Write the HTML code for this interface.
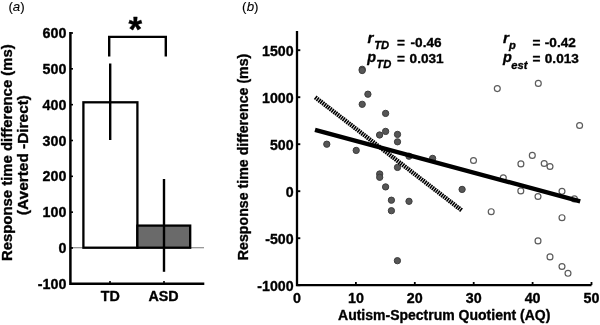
<!DOCTYPE html>
<html><head><meta charset="utf-8"><title>Figure</title>
<style>
html,body{margin:0;padding:0;background:#fff;}
.t text{stroke:#000;stroke-width:0.35px;stroke-linejoin:round;}
.t text.lab{stroke-width:0.12px;}
body{width:600px;height:325px;overflow:hidden;position:relative;font-family:"Liberation Sans",sans-serif;}
</style></head><body>
<svg width="600" height="325" viewBox="0 0 600 325" style="position:absolute;left:0;top:0">
<defs><filter id="soft" x="0" y="0" width="600" height="325" filterUnits="userSpaceOnUse"><feGaussianBlur stdDeviation="0.4"/></filter><filter id="soft2" x="300" y="80" width="180" height="150" filterUnits="userSpaceOnUse"><feGaussianBlur stdDeviation="0.2"/></filter></defs>
<rect width="600" height="325" fill="#fff"/>
<g filter="url(#soft)">
<g font-family="Liberation Sans, sans-serif" fill="#000" class="t">
<line x1="71" y1="247.7" x2="204" y2="247.7" stroke="#777" stroke-width="1.1"/>
<rect x="83.4" y="102.3" width="54" height="145.4" fill="#fff" stroke="#000" stroke-width="2.3"/>
<rect x="137.4" y="225.6" width="52.8" height="22.1" fill="#6a6a6a" stroke="#000" stroke-width="2.3"/>
<line x1="110.2" y1="63.5" x2="110.2" y2="140" stroke="#000" stroke-width="2.4"/>
<line x1="164" y1="179" x2="164" y2="271.8" stroke="#000" stroke-width="2.4"/>
<path d="M109.2 56.5 V36.9 H165.8 V56.5" fill="none" stroke="#000" stroke-width="2.4"/>
<path d="M70.4 32 V283.7 H204.3" fill="none" stroke="#000" stroke-width="2.5"/>
<line x1="70.4" y1="33.00" x2="73" y2="33.00" stroke="#000" stroke-width="1.6"/>
<text x="66.4" y="38.10" font-size="14.3" font-weight="bold" text-anchor="end">600</text>
<line x1="70.4" y1="68.83" x2="73" y2="68.83" stroke="#000" stroke-width="1.6"/>
<text x="66.4" y="73.93" font-size="14.3" font-weight="bold" text-anchor="end">500</text>
<line x1="70.4" y1="104.66" x2="73" y2="104.66" stroke="#000" stroke-width="1.6"/>
<text x="66.4" y="109.76" font-size="14.3" font-weight="bold" text-anchor="end">400</text>
<line x1="70.4" y1="140.49" x2="73" y2="140.49" stroke="#000" stroke-width="1.6"/>
<text x="66.4" y="145.59" font-size="14.3" font-weight="bold" text-anchor="end">300</text>
<line x1="70.4" y1="176.32" x2="73" y2="176.32" stroke="#000" stroke-width="1.6"/>
<text x="66.4" y="181.42" font-size="14.3" font-weight="bold" text-anchor="end">200</text>
<line x1="70.4" y1="212.15" x2="73" y2="212.15" stroke="#000" stroke-width="1.6"/>
<text x="66.4" y="217.25" font-size="14.3" font-weight="bold" text-anchor="end">100</text>
<line x1="70.4" y1="247.98" x2="73" y2="247.98" stroke="#000" stroke-width="1.6"/>
<text x="66.4" y="253.08" font-size="14.3" font-weight="bold" text-anchor="end">0</text>
<line x1="70.4" y1="283.81" x2="73" y2="283.81" stroke="#000" stroke-width="1.6"/>
<text x="66.4" y="288.91" font-size="14.3" font-weight="bold" text-anchor="end">-100</text>
<line x1="110" y1="283.7" x2="110" y2="281" stroke="#000" stroke-width="1.6"/>
<line x1="164" y1="283.7" x2="164" y2="281" stroke="#000" stroke-width="1.6"/>
<text x="110.2" y="300.8" font-size="14.3" font-weight="bold" text-anchor="middle">TD</text>
<text x="163.6" y="300.8" font-size="14.3" font-weight="bold" text-anchor="middle">ASD</text>
<text x="135.2" y="40.7" font-size="35" font-weight="bold" text-anchor="middle">*</text>
<text transform="translate(12.3,152.65) rotate(-90)" font-size="14.9" font-weight="bold" text-anchor="middle">Response time difference (ms)</text>
<text transform="translate(28.3,155.05) rotate(-90)" font-size="15.4" font-weight="bold" text-anchor="middle">(Averted -Direct)</text>
<text class="lab" x="8.4" y="10.8" font-size="13.3">(<tspan font-style="italic">a</tspan>)</text>
<text class="lab" x="241.9" y="10.8" font-size="13.3">(<tspan font-style="italic" dx="0.3">b</tspan>)</text>
</g>
<g font-family="Liberation Sans, sans-serif" fill="#000" class="t">
<circle cx="326.8" cy="144.2" r="3.15" fill="#565656" stroke="#3c3c3c" stroke-width="1"/>
<circle cx="356.2" cy="150.4" r="3.15" fill="#565656" stroke="#3c3c3c" stroke-width="1"/>
<circle cx="362.2" cy="69.3" r="3.15" fill="#565656" stroke="#3c3c3c" stroke-width="1"/>
<circle cx="362.2" cy="70.5" r="3.15" fill="#565656" stroke="#3c3c3c" stroke-width="1"/>
<circle cx="367.9" cy="94.2" r="3.15" fill="#565656" stroke="#3c3c3c" stroke-width="1"/>
<circle cx="362.2" cy="104.3" r="3.15" fill="#565656" stroke="#3c3c3c" stroke-width="1"/>
<circle cx="385.6" cy="113.4" r="3.15" fill="#565656" stroke="#3c3c3c" stroke-width="1"/>
<circle cx="385.6" cy="131.4" r="3.15" fill="#565656" stroke="#3c3c3c" stroke-width="1"/>
<circle cx="379.6" cy="135.0" r="3.15" fill="#565656" stroke="#3c3c3c" stroke-width="1"/>
<circle cx="397.5" cy="134.4" r="3.15" fill="#565656" stroke="#3c3c3c" stroke-width="1"/>
<circle cx="397.5" cy="141.8" r="3.15" fill="#565656" stroke="#3c3c3c" stroke-width="1"/>
<circle cx="397.5" cy="167.4" r="3.15" fill="#565656" stroke="#3c3c3c" stroke-width="1"/>
<circle cx="379.7" cy="174.0" r="3.15" fill="#565656" stroke="#3c3c3c" stroke-width="1"/>
<circle cx="379.7" cy="177.3" r="3.15" fill="#565656" stroke="#3c3c3c" stroke-width="1"/>
<circle cx="385.6" cy="186.9" r="3.15" fill="#565656" stroke="#3c3c3c" stroke-width="1"/>
<circle cx="391.4" cy="200.2" r="3.15" fill="#565656" stroke="#3c3c3c" stroke-width="1"/>
<circle cx="391.4" cy="210.7" r="3.15" fill="#565656" stroke="#3c3c3c" stroke-width="1"/>
<circle cx="409.0" cy="156.2" r="3.15" fill="#565656" stroke="#3c3c3c" stroke-width="1"/>
<circle cx="432.6" cy="158.4" r="3.15" fill="#565656" stroke="#3c3c3c" stroke-width="1"/>
<circle cx="409.0" cy="201.3" r="3.15" fill="#565656" stroke="#3c3c3c" stroke-width="1"/>
<circle cx="462.1" cy="189.4" r="3.15" fill="#565656" stroke="#3c3c3c" stroke-width="1"/>
<circle cx="397.4" cy="260.7" r="3.15" fill="#565656" stroke="#3c3c3c" stroke-width="1"/>
<circle cx="497.3" cy="88.6" r="2.95" fill="#fff" stroke="#5c5c5c" stroke-width="1.2"/>
<circle cx="538.3" cy="83.4" r="2.95" fill="#fff" stroke="#5c5c5c" stroke-width="1.2"/>
<circle cx="579.6" cy="125.5" r="2.95" fill="#fff" stroke="#5c5c5c" stroke-width="1.2"/>
<circle cx="473.5" cy="160.5" r="2.95" fill="#fff" stroke="#5c5c5c" stroke-width="1.2"/>
<circle cx="520.9" cy="163.9" r="2.95" fill="#fff" stroke="#5c5c5c" stroke-width="1.2"/>
<circle cx="532.3" cy="155.4" r="2.95" fill="#fff" stroke="#5c5c5c" stroke-width="1.2"/>
<circle cx="544.2" cy="163.5" r="2.95" fill="#fff" stroke="#5c5c5c" stroke-width="1.2"/>
<circle cx="550.0" cy="166.5" r="2.95" fill="#fff" stroke="#5c5c5c" stroke-width="1.2"/>
<circle cx="503.3" cy="177.8" r="2.95" fill="#fff" stroke="#5c5c5c" stroke-width="1.2"/>
<circle cx="520.8" cy="190.9" r="2.95" fill="#fff" stroke="#5c5c5c" stroke-width="1.2"/>
<circle cx="538.0" cy="196.5" r="2.95" fill="#fff" stroke="#5c5c5c" stroke-width="1.2"/>
<circle cx="562.0" cy="191.3" r="2.95" fill="#fff" stroke="#5c5c5c" stroke-width="1.2"/>
<circle cx="574.4" cy="198.9" r="2.95" fill="#fff" stroke="#5c5c5c" stroke-width="1.2"/>
<circle cx="491.2" cy="211.7" r="2.95" fill="#fff" stroke="#5c5c5c" stroke-width="1.2"/>
<circle cx="562.0" cy="217.7" r="2.95" fill="#fff" stroke="#5c5c5c" stroke-width="1.2"/>
<circle cx="538.0" cy="240.9" r="2.95" fill="#fff" stroke="#5c5c5c" stroke-width="1.2"/>
<circle cx="550.0" cy="256.9" r="2.95" fill="#fff" stroke="#5c5c5c" stroke-width="1.2"/>
<circle cx="562.0" cy="266.5" r="2.95" fill="#fff" stroke="#5c5c5c" stroke-width="1.2"/>
<circle cx="568.0" cy="273.3" r="2.95" fill="#fff" stroke="#5c5c5c" stroke-width="1.2"/>
</g></g>
<line x1="315.2" y1="97.3" x2="462" y2="210.6" stroke="#000" stroke-width="4.4" stroke-dasharray="1.6 0.75" filter="url(#soft2)"/>
<g filter="url(#soft)"><g font-family="Liberation Sans, sans-serif" fill="#000" class="t">
<line x1="315" y1="129.9" x2="580.2" y2="201.3" stroke="#000" stroke-width="4.4"/>
<path d="M297 31 V285.1 H591.5" fill="none" stroke="#000" stroke-width="2.3"/>
<line x1="297" y1="50.20" x2="300.3" y2="50.20" stroke="#000" stroke-width="1.9"/>
<text x="293.6" y="55.60" font-size="14.2" font-weight="bold" text-anchor="end">1500</text>
<line x1="297" y1="97.20" x2="300.3" y2="97.20" stroke="#000" stroke-width="1.9"/>
<text x="293.6" y="102.60" font-size="14.2" font-weight="bold" text-anchor="end">1000</text>
<line x1="297" y1="144.20" x2="300.3" y2="144.20" stroke="#000" stroke-width="1.9"/>
<text x="293.6" y="149.60" font-size="14.2" font-weight="bold" text-anchor="end">500</text>
<line x1="297" y1="191.20" x2="300.3" y2="191.20" stroke="#000" stroke-width="1.9"/>
<text x="293.6" y="196.60" font-size="14.2" font-weight="bold" text-anchor="end">0</text>
<line x1="297" y1="238.20" x2="300.3" y2="238.20" stroke="#000" stroke-width="1.9"/>
<text x="293.6" y="243.60" font-size="14.2" font-weight="bold" text-anchor="end">-500</text>
<line x1="297" y1="285.20" x2="300.3" y2="285.20" stroke="#000" stroke-width="1.9"/>
<text x="293.6" y="290.60" font-size="14.2" font-weight="bold" text-anchor="end">-1000</text>
<line x1="297.00" y1="285.1" x2="297.00" y2="282" stroke="#000" stroke-width="1.8"/>
<text x="297.00" y="302.6" font-size="14.3" font-weight="bold" text-anchor="middle">0</text>
<line x1="355.90" y1="285.1" x2="355.90" y2="282" stroke="#000" stroke-width="1.8"/>
<text x="355.90" y="302.6" font-size="14.3" font-weight="bold" text-anchor="middle">10</text>
<line x1="414.80" y1="285.1" x2="414.80" y2="282" stroke="#000" stroke-width="1.8"/>
<text x="414.80" y="302.6" font-size="14.3" font-weight="bold" text-anchor="middle">20</text>
<line x1="473.70" y1="285.1" x2="473.70" y2="282" stroke="#000" stroke-width="1.8"/>
<text x="473.70" y="302.6" font-size="14.3" font-weight="bold" text-anchor="middle">30</text>
<line x1="532.60" y1="285.1" x2="532.60" y2="282" stroke="#000" stroke-width="1.8"/>
<text x="532.60" y="302.6" font-size="14.3" font-weight="bold" text-anchor="middle">40</text>
<line x1="591.50" y1="285.1" x2="591.50" y2="282" stroke="#000" stroke-width="1.8"/>
<text x="591.50" y="302.6" font-size="14.3" font-weight="bold" text-anchor="middle">50</text>
<text x="444.2" y="319.8" font-size="14" font-weight="bold" text-anchor="middle">Autism-Spectrum Quotient (AQ)</text>
<text transform="translate(247.7,156.95) rotate(-90)" font-size="14.2" font-weight="bold" text-anchor="middle">Response time difference (ms)</text>
<text x="367.6" y="43.1" font-size="15.2" font-weight="bold" font-style="italic">r</text>
<text x="374.2" y="48.7" font-size="11.2" font-weight="bold" font-style="italic">TD</text>
<text x="397.1" y="46.7" font-size="13.6" font-weight="bold">=</text>
<text x="410.6" y="46.7" font-size="13.6" font-weight="bold">-0.46</text>
<text x="367.2" y="61.7" font-size="14.4" font-weight="bold" font-style="italic">p</text>
<text x="376.3" y="68.1" font-size="11.2" font-weight="bold" font-style="italic">TD</text>
<text x="397.1" y="63.1" font-size="13.6" font-weight="bold">=</text>
<text x="409.6" y="63.1" font-size="13.6" font-weight="bold">0.031</text>
<text x="502.9" y="43.2" font-size="15.2" font-weight="bold" font-style="italic">r</text>
<text x="508.9" y="48.8" font-size="11.2" font-weight="bold" font-style="italic">p</text>
<text x="532.5" y="46.7" font-size="13.6" font-weight="bold">=</text>
<text x="544.8" y="46.7" font-size="13.6" font-weight="bold">-0.42</text>
<text x="503.0" y="62.2" font-size="14.4" font-weight="bold" font-style="italic">p</text>
<text x="511.3" y="68.9" font-size="11.2" font-weight="bold" font-style="italic">est</text>
<text x="532.5" y="62.7" font-size="13.6" font-weight="bold">=</text>
<text x="544.8" y="62.7" font-size="13.6" font-weight="bold">0.013</text>
</g>
</g>
</svg>
</body></html>
